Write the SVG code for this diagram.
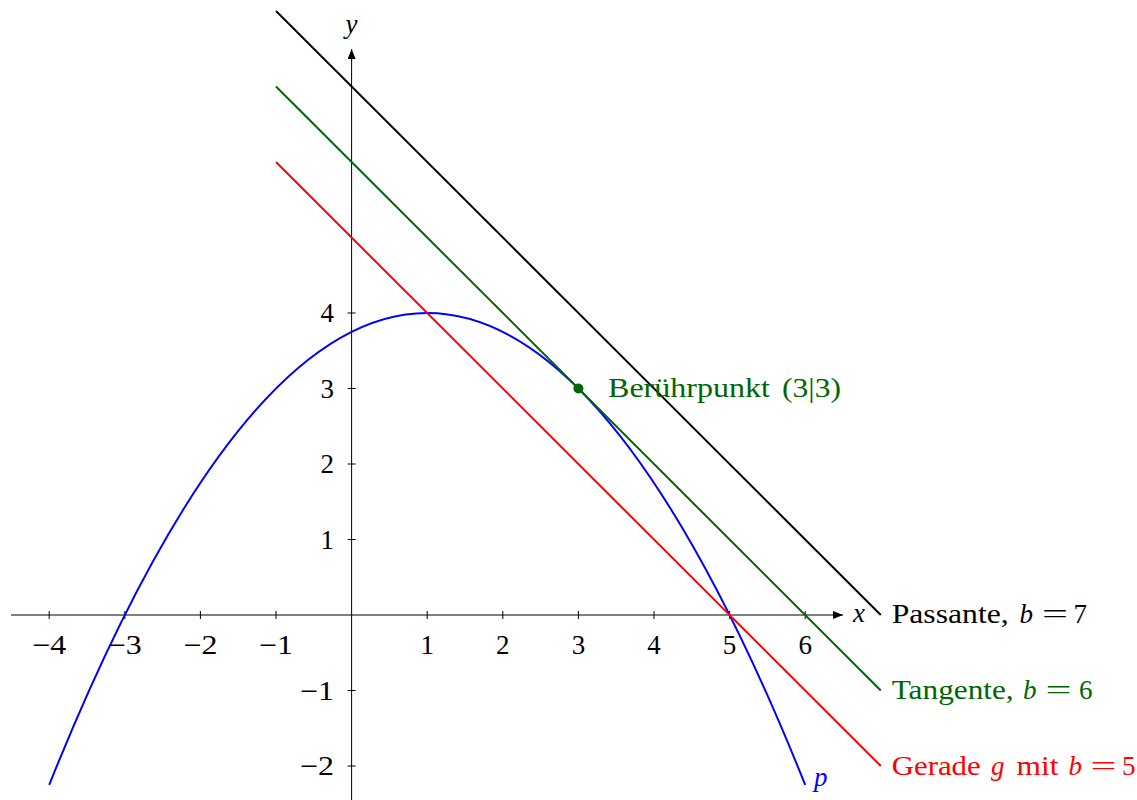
<svg xmlns="http://www.w3.org/2000/svg" width="1137" height="800" viewBox="0 0 1137 800">
<style>
text{font-family:"Liberation Serif","Times New Roman",serif;font-size:27px}
.it{font-style:italic}
.tx{text-anchor:middle}
.ty{text-anchor:end}
.ax{stroke:#000;stroke-width:1;fill:none}
.tk{stroke:#000;stroke-width:1}
.g{fill:#006600}
.r{fill:#ff0000}
</style>
<defs>
<marker id="arr" viewBox="0 0 10 8" refX="10" refY="4" markerWidth="10" markerHeight="8" markerUnits="userSpaceOnUse" orient="auto">
<path d="M0,0 L10,4 L0,8 Z" fill="#000"/>
</marker>
</defs>
<rect width="1137" height="800" fill="#fff"/>
<g id="axes">
<line class="ax" x1="11" y1="615" x2="843" y2="615" marker-end="url(#arr)"/>
<line class="ax" x1="351.6" y1="804" x2="351.6" y2="49" marker-end="url(#arr)"/>
<g id="xticks">
<line class="tk" x1="49.2" y1="611" x2="49.2" y2="619"/>
<line class="tk" x1="124.8" y1="611" x2="124.8" y2="619"/>
<line class="tk" x1="200.4" y1="611" x2="200.4" y2="619"/>
<line class="tk" x1="276" y1="611" x2="276" y2="619"/>
<line class="tk" x1="427.2" y1="611" x2="427.2" y2="619"/>
<line class="tk" x1="502.8" y1="611" x2="502.8" y2="619"/>
<line class="tk" x1="578.4" y1="611" x2="578.4" y2="619"/>
<line class="tk" x1="654" y1="611" x2="654" y2="619"/>
<line class="tk" x1="729.6" y1="611" x2="729.6" y2="619"/>
<line class="tk" x1="805.2" y1="611" x2="805.2" y2="619"/>
</g>
<g id="yticks">
<line class="tk" x1="347.6" y1="313" x2="355.6" y2="313"/>
<line class="tk" x1="347.6" y1="388.5" x2="355.6" y2="388.5"/>
<line class="tk" x1="347.6" y1="464" x2="355.6" y2="464"/>
<line class="tk" x1="347.6" y1="539.5" x2="355.6" y2="539.5"/>
<line class="tk" x1="347.6" y1="690.5" x2="355.6" y2="690.5"/>
<line class="tk" x1="347.6" y1="766" x2="355.6" y2="766"/>
</g>
<g id="xlabels">
<text class="tx" x="49.2" y="654" textLength="34" lengthAdjust="spacingAndGlyphs">−4</text>
<text class="tx" x="124.8" y="654" textLength="34" lengthAdjust="spacingAndGlyphs">−3</text>
<text class="tx" x="200.4" y="654" textLength="34" lengthAdjust="spacingAndGlyphs">−2</text>
<text class="tx" x="276" y="654" textLength="34" lengthAdjust="spacingAndGlyphs">−1</text>
<text class="tx" x="427.2" y="654">1</text>
<text class="tx" x="502.8" y="654">2</text>
<text class="tx" x="578.4" y="654">3</text>
<text class="tx" x="654" y="654">4</text>
<text class="tx" x="729.6" y="654">5</text>
<text class="tx" x="805.2" y="654">6</text>
</g>
<g id="ylabels">
<text class="ty" x="334" y="322">4</text>
<text class="ty" x="334" y="397.5">3</text>
<text class="ty" x="334" y="473">2</text>
<text class="ty" x="334" y="548.5">1</text>
<text class="ty" x="334" y="699.5" textLength="34" lengthAdjust="spacingAndGlyphs">−1</text>
<text class="ty" x="334" y="775" textLength="34" lengthAdjust="spacingAndGlyphs">−2</text>
</g>
<text class="it" x="853" y="622" font-size="28">x</text>
<text class="it tx" x="351.6" y="33" font-size="28">y</text>
</g>
<g id="connectors" fill="none" stroke-width="2">
<path id="parabola" d="M49.2,784.9 Q427.2,-158.9 805.2,784.9" stroke="#0000ff"/>
<line id="passante" x1="276" y1="11" x2="880.8" y2="615" stroke="#000"/>
<line id="tangente" x1="276" y1="86.5" x2="880.8" y2="690.5" stroke="#006600"/>
<line id="gerade" x1="276" y1="162" x2="880.8" y2="766" stroke="#ff0000"/>
</g>
<g id="beruehrpunkt">
<circle cx="578.4" cy="388.5" r="5" fill="#006600"/>
<text class="g" x="608" y="397" textLength="162" lengthAdjust="spacingAndGlyphs">Berührpunkt</text>
<text class="g" x="782" y="397" textLength="59" lengthAdjust="spacingAndGlyphs">(3|3)</text>
</g>
<g id="label-passante">
<text x="891.7" y="623" textLength="117" lengthAdjust="spacingAndGlyphs">Passante,</text>
<text class="it" x="1019.5" y="623">b</text>
<text x="1042" y="623" textLength="26" lengthAdjust="spacingAndGlyphs">=</text>
<text x="1073.5" y="623">7</text>
</g>
<g id="label-tangente">
<text class="g" x="891.7" y="699" textLength="122" lengthAdjust="spacingAndGlyphs">Tangente,</text>
<text class="g it" x="1023" y="699">b</text>
<text class="g" x="1045.5" y="699" textLength="26" lengthAdjust="spacingAndGlyphs">=</text>
<text class="g" x="1079" y="699">6</text>
</g>
<g id="label-gerade">
<text class="r" x="891.7" y="775" textLength="89" lengthAdjust="spacingAndGlyphs">Gerade</text>
<text class="r it" x="991" y="775">g</text>
<text class="r" x="1016.5" y="775" textLength="42" lengthAdjust="spacingAndGlyphs">mit</text>
<text class="r it" x="1068.5" y="775">b</text>
<text class="r" x="1090.5" y="775" textLength="26" lengthAdjust="spacingAndGlyphs">=</text>
<text class="r" x="1122" y="775">5</text>
</g>
<text class="it" x="814" y="786" font-size="28" fill="#0000ff">p</text>
</svg>
